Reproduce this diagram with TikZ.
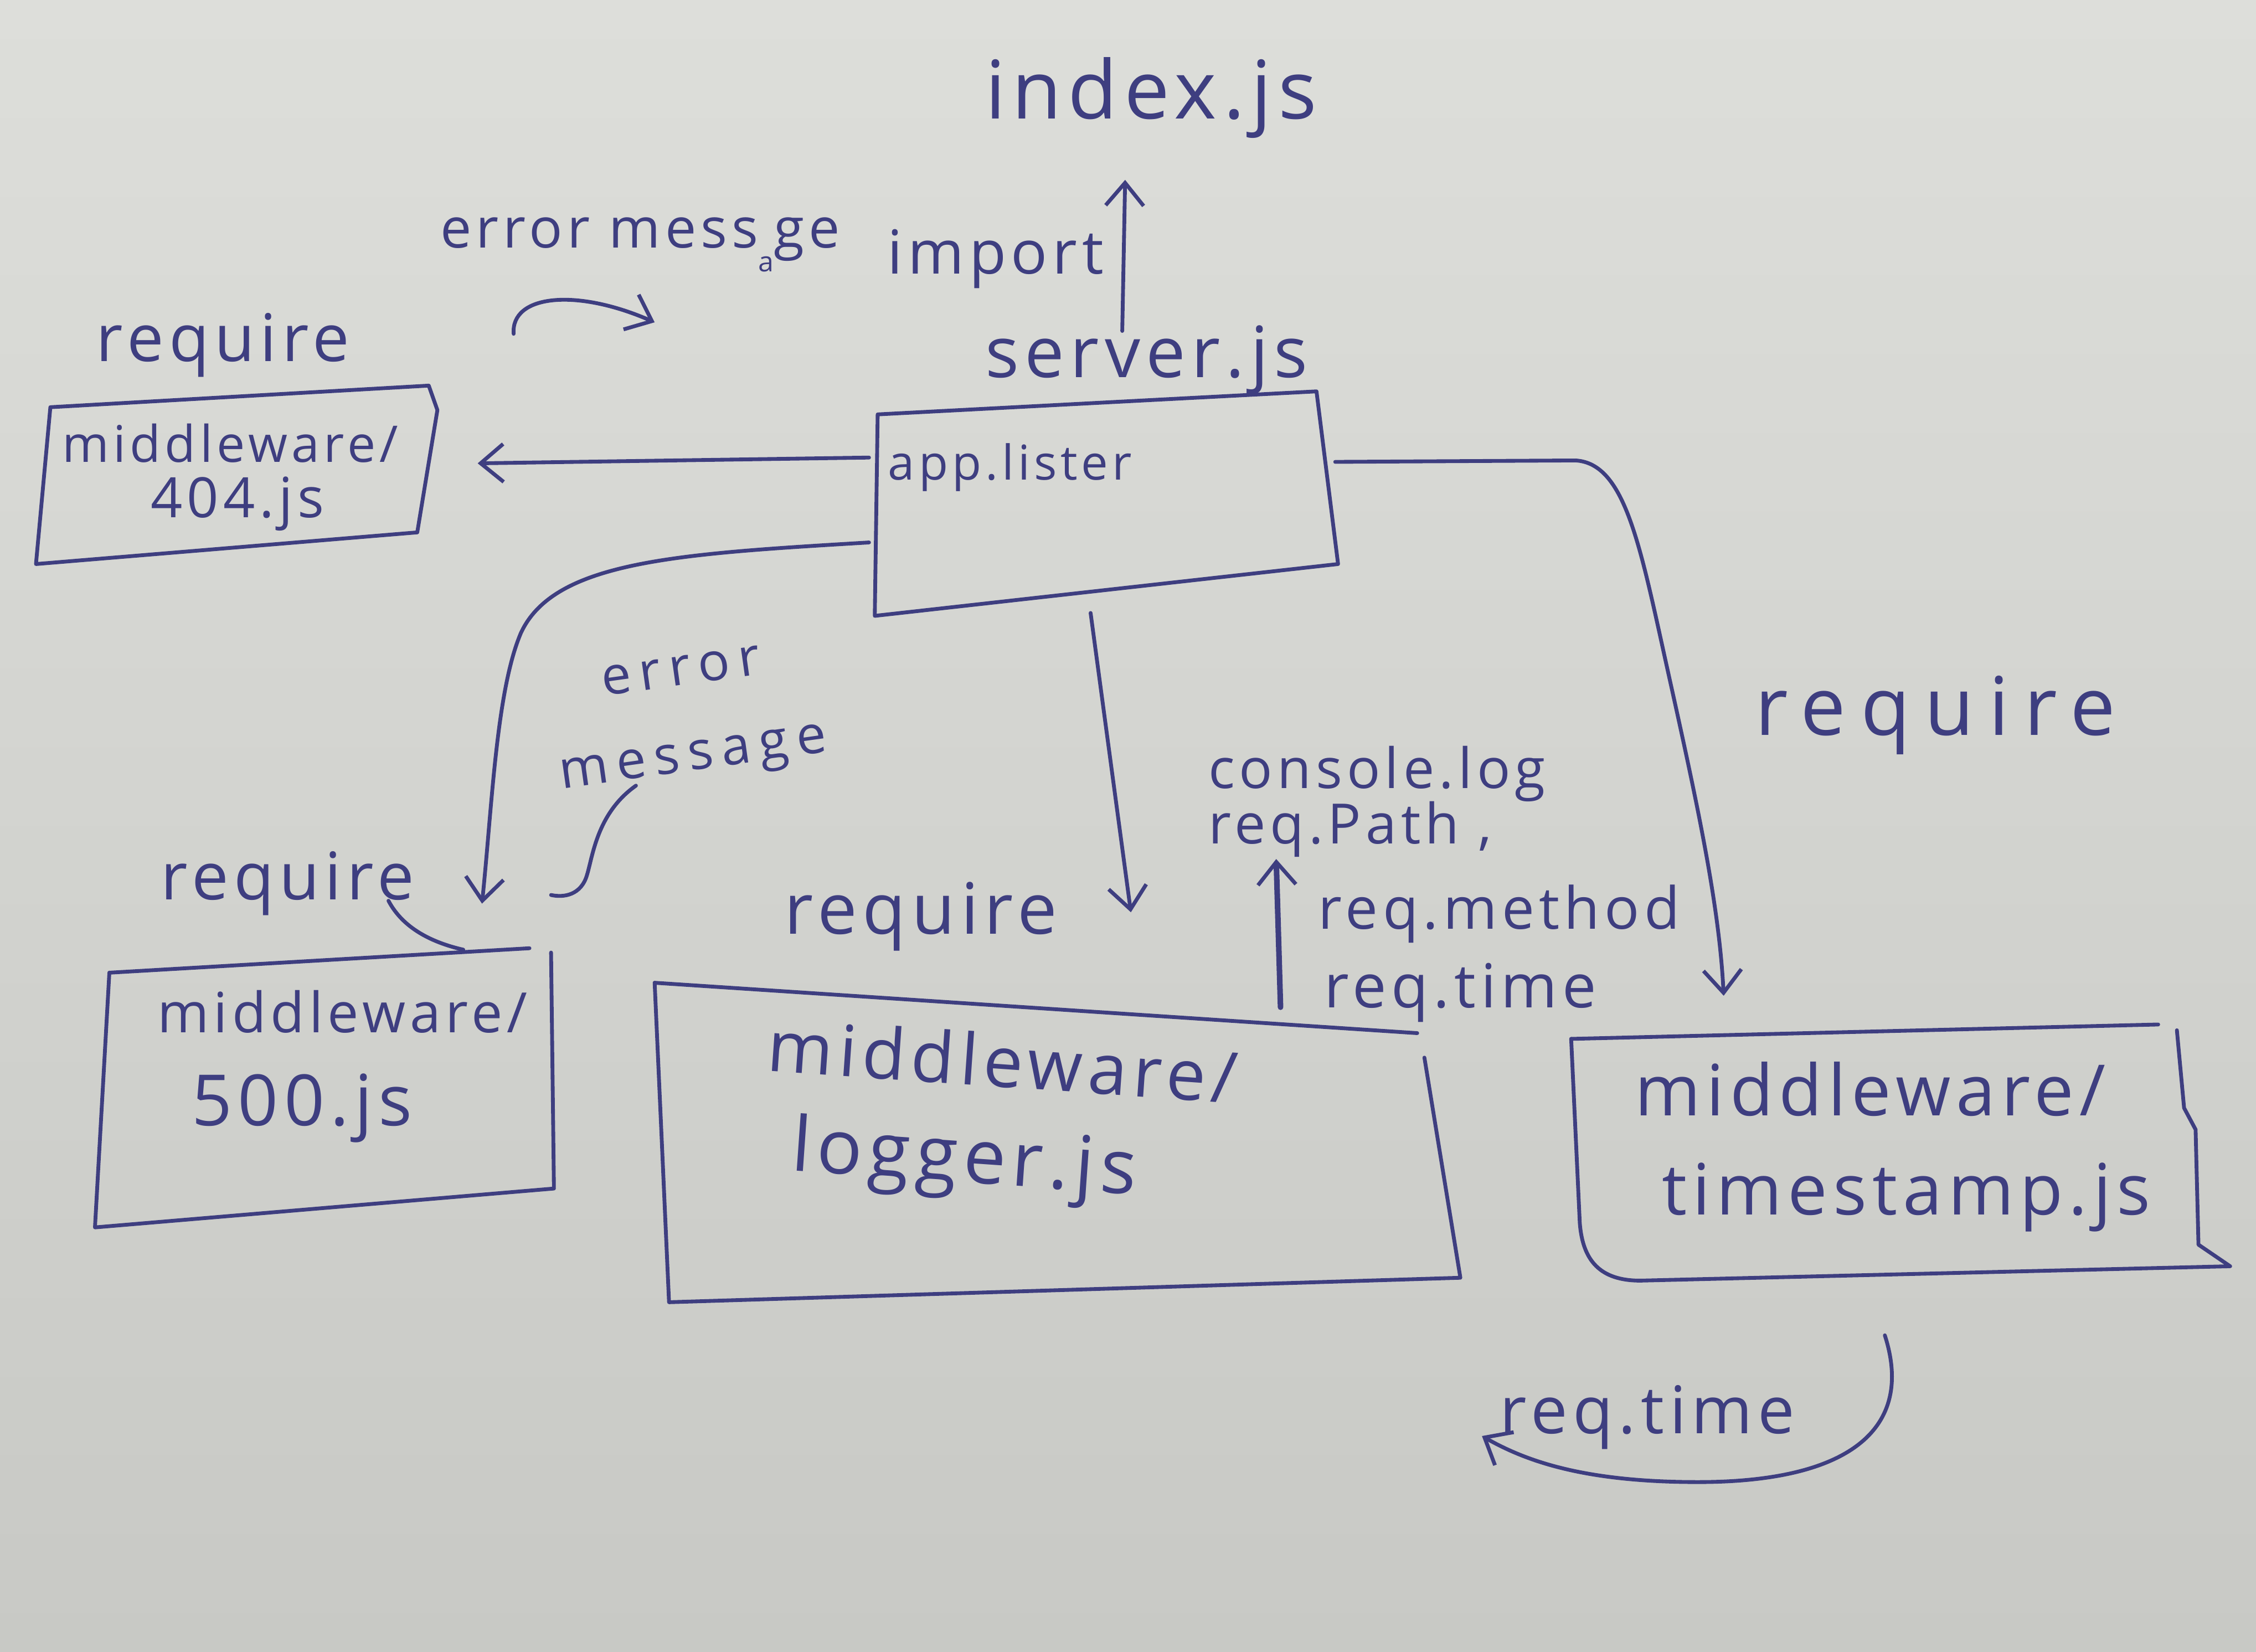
\documentclass[tikz,border=0pt]{standalone}
\usepackage{fontspec}
\setmainfont{Open Sans}[LetterSpace=8]
\usetikzlibrary{arrows.meta}
\definecolor{ink}{RGB}{62,62,128}
\definecolor{papertop}{RGB}{221,222,218}
\definecolor{paperbot}{RGB}{200,201,197}
\begin{document}
\begin{tikzpicture}[x=0.02cm,y=-0.02cm,
  pen/.style={draw=ink, line width=1.5pt, line cap=round, line join=round},
  tip/.style={-{Straight Barb[length=9pt,width=15pt,line width=1.5pt]}},
  hand/.style={text=ink, inner sep=0pt, font=\fontsize{#1}{#1}\selectfont}]
\useasboundingbox (0,0) rectangle (1568,1148);
\shade[top color=papertop, bottom color=paperbot] (0,0) rectangle (1568,1148);

% ---------- boxes (hand-drawn outlines)
\draw[pen] (35,283) -- (298,268) -- (304,285) -- (290,370) -- (25,392) -- cycle;
\draw[pen] (610,288) -- (915,272) -- (930,392) -- (608,428) -- cycle;
\draw[pen] (76,676) -- (368,659);
\draw[pen] (383,662) -- (385,826) -- (66,853) -- (76,676);
\draw[pen] (455,683) -- (985,718);
\draw[pen] (990,735) -- (1015,888) -- (465,905) -- (455,683);
\draw[pen] (1092,722) -- (1500,712);
\draw[pen] (1513,716) -- (1518,770) -- (1526,785) -- (1528,865) -- (1550,880) -- (1140,890)
  .. controls (1112,890) and (1100,876) .. (1098,850) -- (1092,722);

% ---------- texts
\node[hand=32pt] (index) at (800,68) {index.js};
\node[hand=24pt] (import) at (692,180) {import};
\node[hand=22pt] (errtop) at (445,170) {error mess\raisebox{-0.8ex}{\fontsize{11pt}{11pt}\selectfont a}ge};
\node[hand=26pt] (req404) at (155,240) {require};
\node[hand=28pt] (server) at (797,250) {server.js};
\node[hand=20pt] (mw404a) at (160,308) {middleware/};
\node[hand=22pt] (mw404b) at (165,350) {404.js};
\node[hand=19pt] (app) at (702,325) {app.lister};
\node[hand=21pt, rotate=8, align=center, font=\fontsize{21pt}{34pt}\selectfont\addfontfeature{LetterSpace=16}] (errmsg) at (478,500) {error\\message};
\node[hand=26pt] (req500) at (200,614) {require};
\node[hand=22pt] (mw500a) at (238,703) {middleware/};
\node[hand=28pt] (mw500b) at (210,770) {500.js};
\node[hand=28pt] (reqlog) at (640,637) {require};
\node[hand=28pt, rotate=-4] (mwloga) at (697,737) {middleware/};
\node[hand=30pt, rotate=-4] (mwlogb) at (670,808) {logger.js};
\node[hand=22pt, align=left, font=\fontsize{22pt}{22pt}\selectfont] (clog) at (957,557) {console.log\\req.Path ,};
\node[hand=23pt] (rmeth) at (1042,635) {req.method};
\node[hand=24pt] (rtime) at (1015,690) {req.time};
\node[hand=32pt] (reqts) at (1345,497) {\addfontfeature{LetterSpace=18}require};
\node[hand=28pt] (mwtsa) at (1300,757) {middleware/};
\node[hand=28pt] (mwtsb) at (1325,832) {timestamp.js};
\node[hand=26pt] (rtime2) at (1145,985) {req.time};

% ---------- connector end points
\coordinate (appW) at (604,318);
\coordinate (b404E) at (332,322);
\coordinate (appN) at (780,230);
\coordinate (indexS) at (782,125);
\coordinate (appSW) at (604,377);
\coordinate (b500N) at (335,628);
\coordinate (appS) at (758,426);
\coordinate (logN) at (786,634);
\coordinate (appE) at (928,321);
\coordinate (tsN) at (1198,692);
\coordinate (logTop) at (890,700);
\coordinate (clogS) at (887,597);
\coordinate (tsS) at (1310,928);
\coordinate (loopEnd) at (1030,998);
\coordinate (fa1) at (357,232);
\coordinate (fa2) at (455,224);
\coordinate (sc1) at (442,546);
\coordinate (sc2) at (383,622);
\coordinate (ul1) at (270,626);
\coordinate (ul2) at (322,660);

% ---------- connectors
\draw[pen,tip] (appW) -- (b404E);
\draw[pen,tip] (appN) -- (indexS);
\draw[pen,tip] (appSW) .. controls (470,385) and (385,390) .. (362,440)
  .. controls (345,480) and (342,560) .. (b500N);
\draw[pen,tip] (appS) -- (logN);
\draw[pen,tip] (appE) -- (1095,320) .. controls (1130,322) and (1140,380) .. (1160,470)
  .. controls (1180,560) and (1195,630) .. (tsN);
\draw[pen,tip,line width=2.2pt] (logTop) -- (clogS);
\draw[pen,tip] (tsS) .. controls (1330,990) and (1290,1030) .. (1180,1030)
  .. controls (1100,1030) and (1060,1015) .. (loopEnd);
\draw[pen,tip] (fa1) .. controls (355,205) and (400,200) .. (fa2);
\draw[pen] (sc1) .. controls (415,565) and (412,595) .. (408,608)
  .. controls (404,622) and (392,624) .. (sc2);
\draw[pen] (ul1) .. controls (280,645) and (300,655) .. (ul2);
\end{tikzpicture}
\end{document}
